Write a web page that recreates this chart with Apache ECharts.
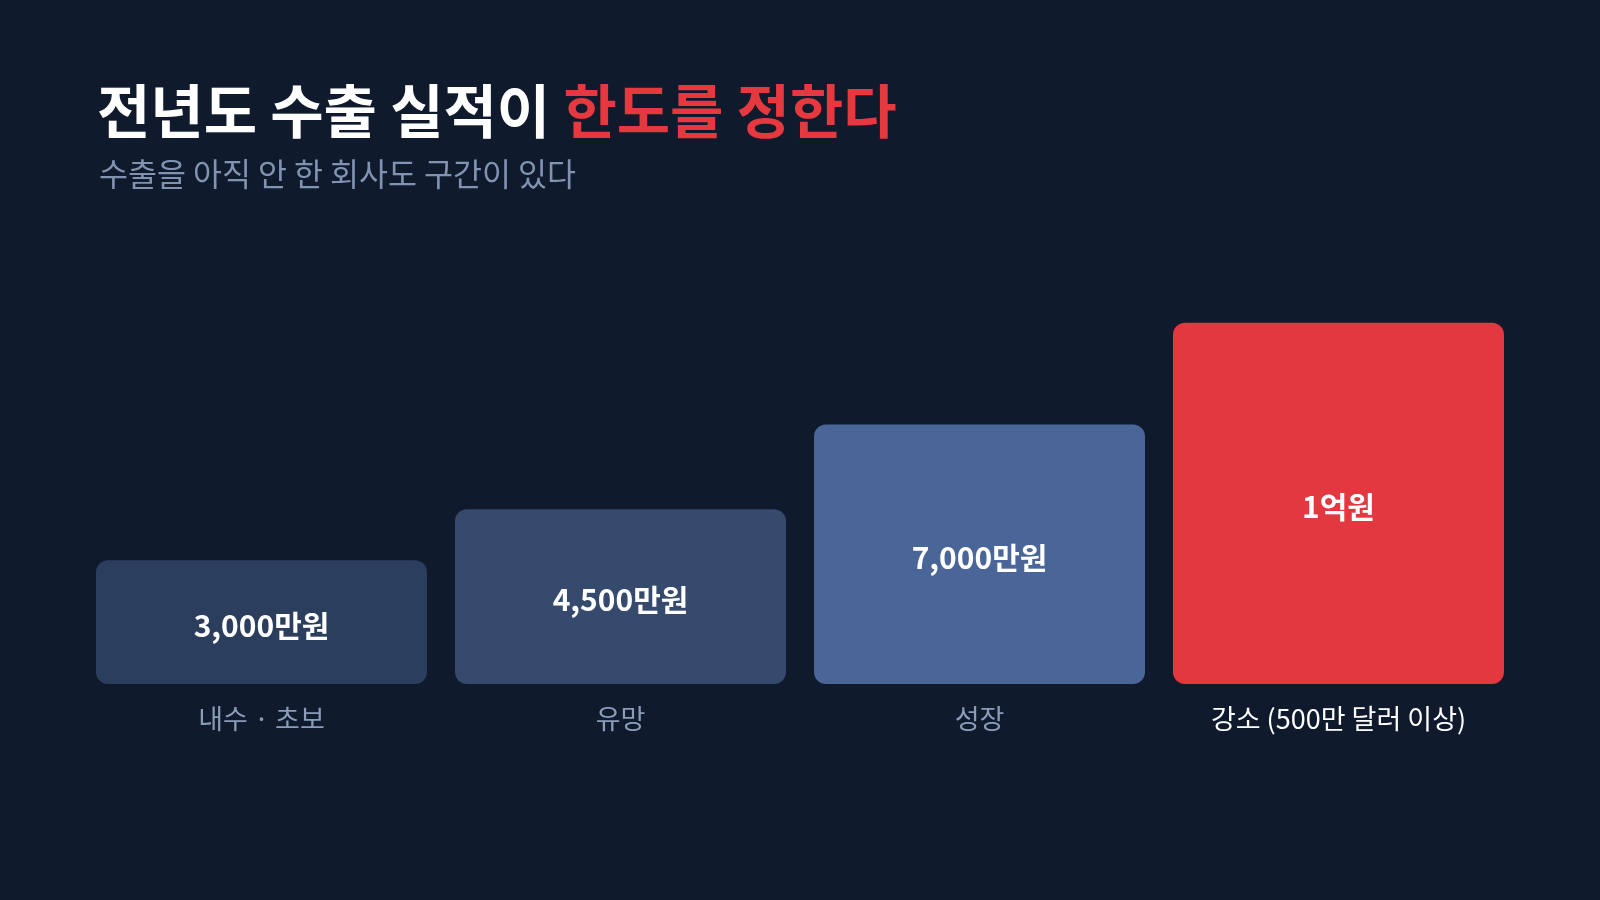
<!DOCTYPE html>
<html>
<head>
<meta charset="utf-8">
<script src="https://cdn.jsdelivr.net/npm/echarts@6/dist/echarts.min.js"></script>
<style>
html,body{margin:0;padding:0;background:#0f1a2c;}
#c{width:1600px;height:900px;}
</style>
</head>
<body>
<div id="c"></div>
<script>
const categories = ['내수 · 초보', '유망', '성장', '강소 (500만 달러 이상)'];
const values = [3000, 4500, 7000, 10000];
const valueLabels = ['3,000만원', '4,500만원', '7,000만원', '1억원'];
const barColors = ['#2c3e5e', '#364a6e', '#4a6699', '#e3383f'];
const categoryColors = ['#8b9cb8', '#8b9cb8', '#8b9cb8', '#ffffff'];

const FONT = '"Noto Sans CJK KR", "Noto Sans", sans-serif';
const Y_MIN = -650, Y_MAX = 12000;
const chart = echarts.init(document.getElementById('c'));
chart.setOption({
  backgroundColor: '#0f1a2c',
  animation: false,
  title: [
    {
      left: 92, top: 77,
      text: '{w|전년도 수출 실적이 }{r|한도를 정한다}',
      textStyle: {
        rich: {
          w: { color: '#ffffff', fontSize: 58, fontWeight: 'bold', fontFamily: FONT },
          r: { color: '#e5383f', fontSize: 58, fontWeight: 'bold', fontFamily: FONT }
        }
      }
    },
    {
      left: 94, top: 153,
      text: '수출을 아직 안 한 회사도 구간이 있다',
      textStyle: { color: '#8193b0', fontSize: 31.5, fontWeight: 'normal', fontFamily: FONT }
    }
  ],
  grid: { left: 82, right: 82, top: 255, bottom: 216, outerBoundsMode: 'none', containLabel: false },
  xAxis: {
    type: 'category',
    data: categories.map((c, i) => ({ value: c, textStyle: { color: categoryColors[i] } })),
    axisLine: { show: false },
    axisTick: { show: false },
    axisLabel: { fontSize: 27, fontFamily: FONT, margin: 21, color: '#8b9cb8' }
  },
  yAxis: {
    type: 'value', min: Y_MIN, max: Y_MAX,
    show: false, splitLine: { show: false }
  },
  series: [{
    type: 'custom',
    data: values.map((v, i) => [i, v]),
    encode: { x: 0, y: 1 },
    renderItem: function (params, api) {
      const idx = api.value(0);
      const top = api.coord([idx, api.value(1)]);
      const base = api.coord([idx, Y_MIN]);
      const band = api.size([1, 0])[0];
      const w = band * 0.922;
      return {
        type: 'rect',
        shape: { x: top[0] - w / 2, y: top[1], width: w, height: base[1] - top[1], r: 12 },
        style: { fill: barColors[params.dataIndex] },
        textContent: {
          style: {
            text: valueLabels[params.dataIndex],
            fill: '#ffffff', fontSize: 30, fontWeight: 'bold', fontFamily: FONT
          }
        },
        textConfig: { position: 'inside', offset: [0, 3] }
      };
    }
  }]
});
</script>
</body>
</html>
